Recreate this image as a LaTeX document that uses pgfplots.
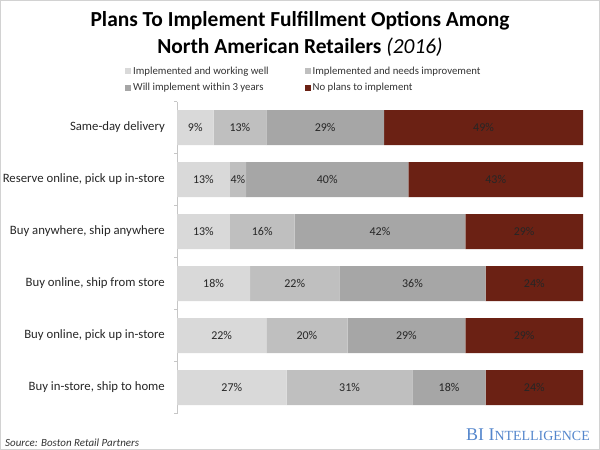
\documentclass[border=0pt]{standalone}
\usepackage{pgfplots}
\usepackage{pgfplotstable}
\usepackage{fontspec}
\pgfplotsset{compat=1.18}
\setmainfont{Carlito}
\newfontfamily\bifont{Liberation Serif}

\definecolor{cwell}{HTML}{D9D9D9}
\definecolor{cneeds}{HTML}{BFBFBF}
\definecolor{cwill}{HTML}{A6A6A6}
\definecolor{cno}{HTML}{6B2114}
\definecolor{bilue}{RGB}{84,134,204}

% shares in %, rows top to bottom
\pgfplotstableread{
row well needs will no
0   9    13    29   49
1   13   4     40   43
2   13   16    42   29
3   18   22    36   24
4   22   20    29   29
5   27   31    18   24
}\fulfil

\begin{document}
\begin{tikzpicture}
\useasboundingbox (0,0) rectangle (600bp,-450bp);
\draw[gray!35, line width=1.2bp] (0.6bp,-0.6bp) rectangle (599.4bp,-449.4bp);

\node[font=\fontsize{21.5}{24}\selectfont\bfseries] at (300bp,-21bp)
  {Plans To Implement Fulfillment Options Among};
\node[font=\fontsize{21.5}{24}\selectfont\bfseries] at (300bp,-47bp)
  {North American Retailers \mdseries\itshape(2016)};

\begin{axis}[
  at={(177bp,-413.5bp)}, anchor=south west,
  scale only axis,
  width=406bp, height=312bp,
  xbar stacked,
  bar width=35bp,
  xmin=0, xmax=100,
  ymin=-0.5, ymax=5.5,
  y dir=reverse,
  hide x axis,
  axis y line*=left,
  y axis line style={draw=gray!45},
  ytick={0,...,5},
  yticklabels={Same-day delivery, {Reserve online, pick up in-store}, {Buy anywhere, ship anywhere}, {Buy online, ship from store}, {Buy online, pick up in-store}, {Buy in-store, ship to home}},
  major tick length=0pt,
  minor ytick={-0.5,0.5,...,5.5},
  minor tick length=3bp,
  tick align=outside,
  minor tick style={draw=gray!45},
  yticklabel style={font=\fontsize{12.8}{14}\selectfont, text=black!85, inner sep=0pt, xshift=-12bp},
  /pgf/number format/assume math mode=true,
  point meta=explicit,
  nodes near coords={\pgfmathprintnumber{\pgfplotspointmeta}\%},
  every node near coord/.append style={font=\fontsize{12}{14}\selectfont, text=black!85},
  legend columns=2,
  legend cell align=left,
  legend style={draw=none, fill=none, at={(0.3125,1.0705)}, anchor=center,
    font=\fontsize{10.8}{12}\selectfont, text=black!80, row sep=3.5bp,
    /tikz/every even column/.append style={column sep=34bp}},
  legend image code/.code={\fill[#1] (0bp,-3bp) rectangle (6bp,3bp);},
]
\addplot[fill=cwell, draw=none] table[x=well, y=row, meta=well] {\fulfil};
\addplot[fill=cneeds, draw=none] table[x=needs, y=row, meta=needs] {\fulfil};
\addplot[fill=cwill, draw=none] table[x=will, y=row, meta=will] {\fulfil};
\addplot[fill=cno, draw=none] table[x=no, y=row, meta=no] {\fulfil};
\legend{Implemented and working well, Implemented and needs improvement, Will implement within 3 years, No plans to implement}
\end{axis}

\node[anchor=base west, inner sep=0pt, font=\fontsize{11}{13}\selectfont\itshape, text=black!80] at (5bp,-446bp)
  {Source: Boston Retail Partners};
\node[anchor=base east, inner sep=0pt, text=bilue] at (590bp,-440bp)
  {\bifont\fontsize{18}{20}\selectfont BI I\fontsize{14}{16}\selectfont NTELLIGENCE};
\end{tikzpicture}
\end{document}
